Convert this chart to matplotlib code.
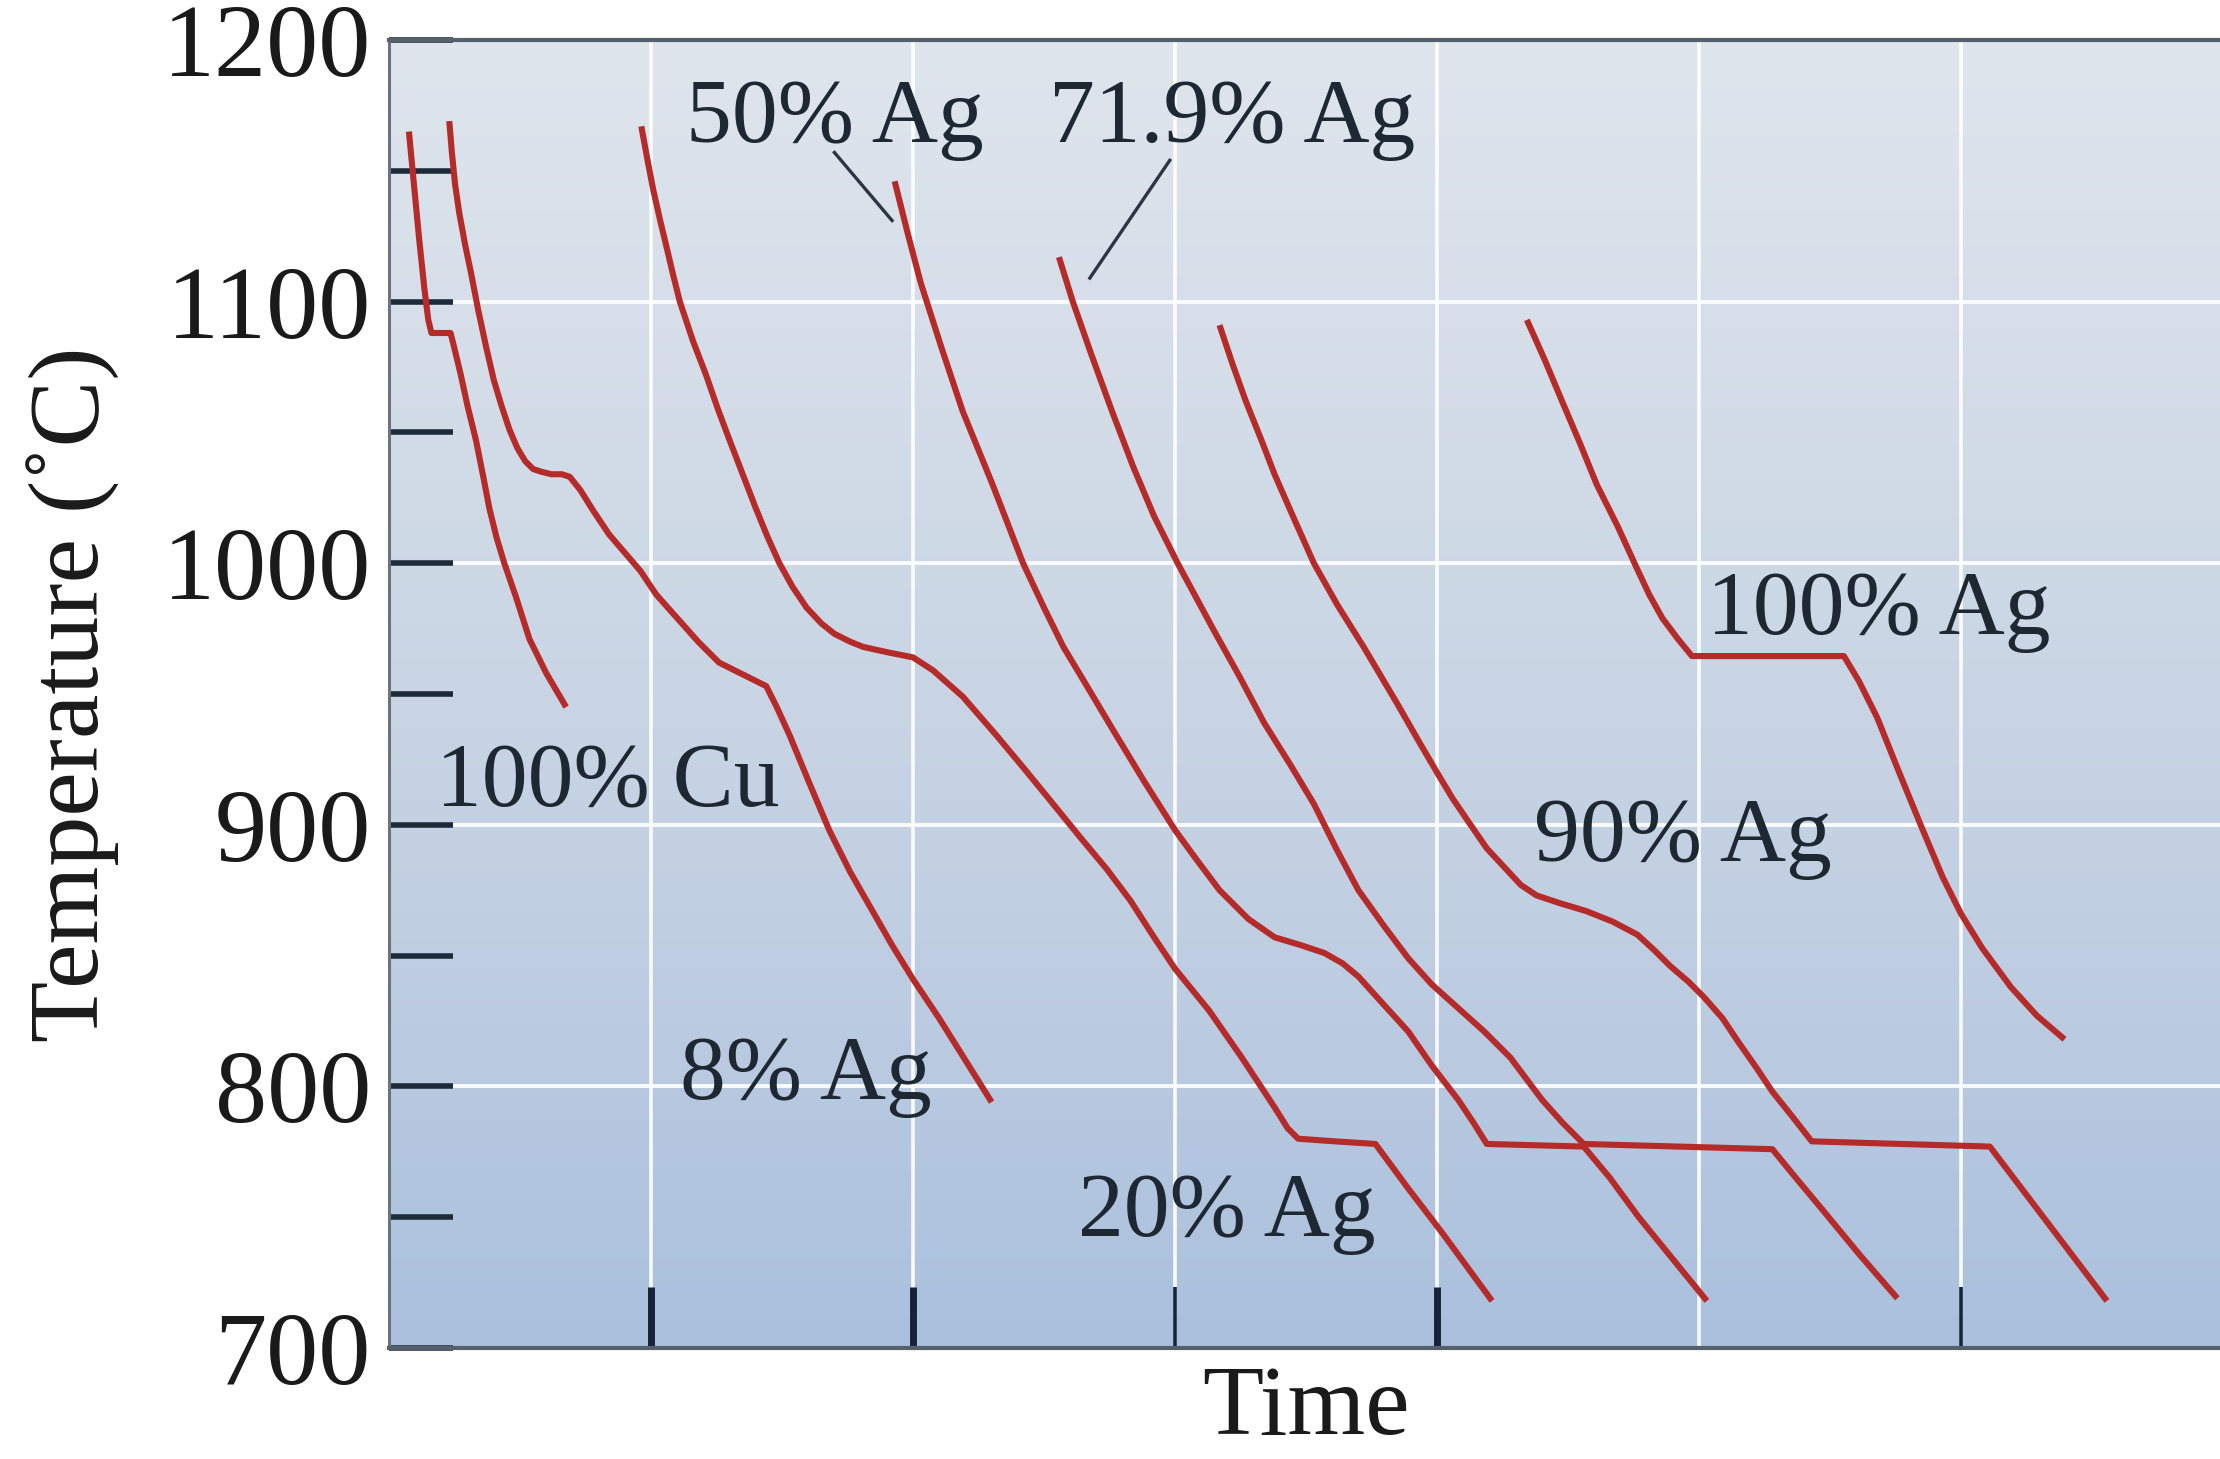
import numpy as np
import matplotlib
matplotlib.use("Agg")
import matplotlib.pyplot as plt
from matplotlib.colors import LinearSegmentedColormap

# ---------------- data (time in grid units, temperature in °C) ----------------
cu100_t = [0.076, 0.095, 0.115, 0.135, 0.150, 0.162, 0.235, 0.250, 0.274, 0.300, 0.332,
           0.360, 0.383, 0.410, 0.440, 0.485, 0.536, 0.600, 0.676]
cu100_T = [1165, 1145, 1124, 1105, 1093, 1088, 1088, 1082, 1072, 1060, 1047,
           1033, 1021, 1010, 1000, 987, 971, 958, 945]

ag8_t = [0.230, 0.240, 0.252, 0.268, 0.290, 0.313, 0.340, 0.370, 0.400, 0.430, 0.460, 0.490,
         0.520, 0.550, 0.580, 0.620, 0.660, 0.690, 0.730, 0.780, 0.840, 0.900, 0.960, 1.02,
         1.10, 1.18, 1.26, 1.34, 1.40, 1.44, 1.48, 1.53, 1.60, 1.68, 1.76, 1.84, 1.92, 2.00,
         2.10, 2.20, 2.30]
ag8_T = [1169, 1157, 1145, 1134, 1122, 1111, 1097, 1083, 1070, 1060, 1051, 1044,
         1039, 1036, 1035, 1034, 1034, 1033, 1028, 1020, 1011, 1004, 997, 988,
         979, 970, 962, 958, 955, 953, 945, 934, 917, 898, 882, 868, 854, 841,
         826, 810, 794]

ag20_t = [0.963, 0.985, 1.008, 1.035, 1.059, 1.085, 1.11, 1.16, 1.21, 1.255, 1.30, 1.35,
          1.40, 1.445, 1.49, 1.54, 1.594, 1.65, 1.70, 1.76, 1.81, 1.90, 2.0, 2.077, 2.19,
          2.32, 2.42, 2.51, 2.64, 2.74, 2.83, 2.92, 3.0, 3.13, 3.255, 3.38, 3.43, 3.47,
          3.61, 3.765, 3.89, 4.02, 4.21]
ag20_T = [1167, 1155, 1143, 1131, 1121, 1110, 1100, 1085, 1072, 1059, 1047, 1034,
          1021, 1010, 1000, 991, 983, 977, 973, 970, 968, 966, 964, 959, 949,
          934, 922, 911, 895, 883, 871, 857, 845, 829, 811, 792, 784, 780,
          779, 778, 761, 744, 718]

ag50_t = [1.93, 1.98, 2.03, 2.11, 2.19, 2.30, 2.42, 2.50, 2.574, 2.67, 2.765, 2.88, 3.0,
          3.08, 3.17, 3.28, 3.38, 3.48, 3.57, 3.64, 3.70, 3.79, 3.89, 3.98, 4.08, 4.14,
          4.19, 4.56, 4.66, 4.77, 4.90, 5.03]
ag50_T = [1146, 1126, 1107, 1082, 1058, 1031, 1000, 983, 968, 952, 936, 917, 898,
          887, 875, 864, 857, 854, 851, 847, 842, 832, 821, 808, 795, 786,
          778, 777, 765, 750, 734, 718]

ag719_t = [2.557, 2.61, 2.68, 2.76, 2.84, 2.92, 3.01, 3.08, 3.15, 3.25, 3.34, 3.44, 3.53,
           3.62, 3.70, 3.80, 3.89, 3.98, 4.08, 4.18, 4.28, 4.34, 4.40, 4.48, 4.56,
           5.28, 5.37, 5.47, 5.61, 5.757]
ag719_T = [1117, 1100, 1080, 1058, 1037, 1018, 1000, 987, 974, 956, 939, 923, 908,
           890, 875, 861, 849, 839, 830, 821, 811, 803, 795, 786, 778,
           776, 765, 753, 736, 719]

ag90_t = [3.17, 3.22, 3.27, 3.33, 3.38, 3.45, 3.53, 3.62, 3.72, 3.85, 3.93, 4.0, 4.06,
          4.128, 4.19, 4.255, 4.32, 4.38, 4.47, 4.57, 4.67, 4.765, 4.83, 4.89, 4.96,
          5.02, 5.09, 5.15, 5.22, 5.28, 5.36, 5.43, 6.11, 6.557]
ag90_T = [1091, 1076, 1062, 1047, 1034, 1018, 1000, 984, 968, 946, 932, 920, 910,
          900, 891, 884, 877, 873, 870, 867, 863, 858, 852, 846, 840,
          834, 826, 817, 807, 798, 788, 779, 777, 718]

ag100_t = [4.343, 4.41, 4.477, 4.545, 4.61, 4.69, 4.763, 4.81, 4.86, 4.92, 4.973,
           5.553, 5.61, 5.68, 5.76, 5.85, 5.93, 6.0, 6.08, 6.19, 6.29, 6.395]
ag100_T = [1093, 1078, 1062, 1046, 1030, 1014, 998, 988, 979, 971, 964.5,
           964.5, 955, 941, 921, 899, 880, 866, 853, 838, 827, 818]

curves = [(cu100_t, cu100_T), (ag8_t, ag8_T), (ag20_t, ag20_T), (ag50_t, ag50_T),
          (ag719_t, ag719_T), (ag90_t, ag90_T), (ag100_t, ag100_T)]

labels = ["100% Cu", "8% Ag", "20% Ag", "50% Ag", "71.9% Ag", "90% Ag", "100% Ag"]
label_t = [0.18, 1.11, 2.63, 1.135, 2.52, 4.37, 5.03]
label_T = [907, 795, 743, 1161, 1161, 886, 973]

leader50_t = [1.70, 1.92]
leader50_T = [1157, 1131]
leader719_t = [2.98, 2.675]
leader719_T = [1154, 1109]

y_major = [700, 800, 900, 1000, 1100, 1200]
y_minor = [750, 850, 950, 1050, 1150]
x_ticks_thick = [1, 2, 4]
x_ticks_thin = [3, 6]
grid_x = [1, 2, 3, 4, 5, 6]
grid_y = [800, 900, 1000, 1100]

# ---------------- figure ----------------
SERIF = ["Liberation Serif", "DejaVu Serif"]
plt.rcParams["font.family"] = SERIF

W, H = 2220, 1459
fig = plt.figure(figsize=(W / 100, H / 100), dpi=100)
fig.patch.set_facecolor("white")
ax = fig.add_axes([389 / W, 1 - 1348 / H, 1834 / W, 1308 / H])
ax.set_xlim(0, 7)
ax.set_ylim(700, 1200)

# gradient background
cmap = LinearSegmentedColormap.from_list(
    "bg", ["#dee5ed", "#d1dbe7", "#c1cfe2", "#aac0dd"])
grad = np.linspace(0, 1, 256).reshape(-1, 1)
ax.imshow(grad, cmap=cmap, extent=[0, 7, 700, 1200], aspect="auto",
          origin="upper", zorder=0, interpolation="bicubic")

# grid
for gx in grid_x:
    ax.axvline(gx, color="white", lw=2.6, alpha=0.92, zorder=1)
for gy in grid_y:
    ax.axhline(gy, color="white", lw=2.8, alpha=0.92, zorder=1)

# curves
RED = "#b52b2a"
for t, T in curves:
    ax.plot(t, T, color=RED, lw=4.4, solid_joinstyle="round",
            solid_capstyle="butt", zorder=3)

# leader lines
ax.plot(leader50_t, leader50_T, color="#2b3642", lw=2.4, zorder=3)
ax.plot(leader719_t, leader719_T, color="#2b3642", lw=2.4, zorder=3)

# labels
for s, lt, lT in zip(labels, label_t, label_T):
    ax.text(lt, lT, s, fontsize=66, color="#1e2833", ha="left",
            va="baseline", zorder=4)

# spines
for side in ["top", "bottom"]:
    ax.spines[side].set_color("#56606b")
    ax.spines[side].set_linewidth(3)
ax.spines["left"].set_color("#6a7480")
ax.spines["left"].set_linewidth(2.2)
ax.spines["right"].set_visible(False)

# y ticks
ax.set_yticks(y_major)
ax.set_yticks(y_minor, minor=True)
ax.set_yticklabels([str(v) for v in y_major])
ax.tick_params(axis="y", which="both", direction="in", length=46, width=4,
               color="#1c2a3a", pad=13, labelsize=75, labelcolor="#1a1a1a")

# x ticks (no labels)
ax.set_xticks(x_ticks_thick + x_ticks_thin)
ax.set_xticklabels([])
ax.tick_params(axis="x", which="major", direction="in", length=44, width=5,
               color="#16243a")
for tk in ax.xaxis.get_major_ticks():
    if tk.get_loc() in x_ticks_thin:
        tk.tick1line.set_markeredgewidth(2.6)

ax.set_xlabel("Time", fontsize=72, color="#1a1a1a")
ax.xaxis.set_label_coords(0.5, -0.066)
ax.xaxis.label.set_verticalalignment("baseline")

ax.set_ylabel("Temperature (˚C)", fontsize=72, color="#1a1a1a")
ax.yaxis.set_label_coords(-0.172, 0.5)
ax.yaxis.label.set_verticalalignment("center")

fig.savefig("out.png", dpi=100, facecolor="white")
